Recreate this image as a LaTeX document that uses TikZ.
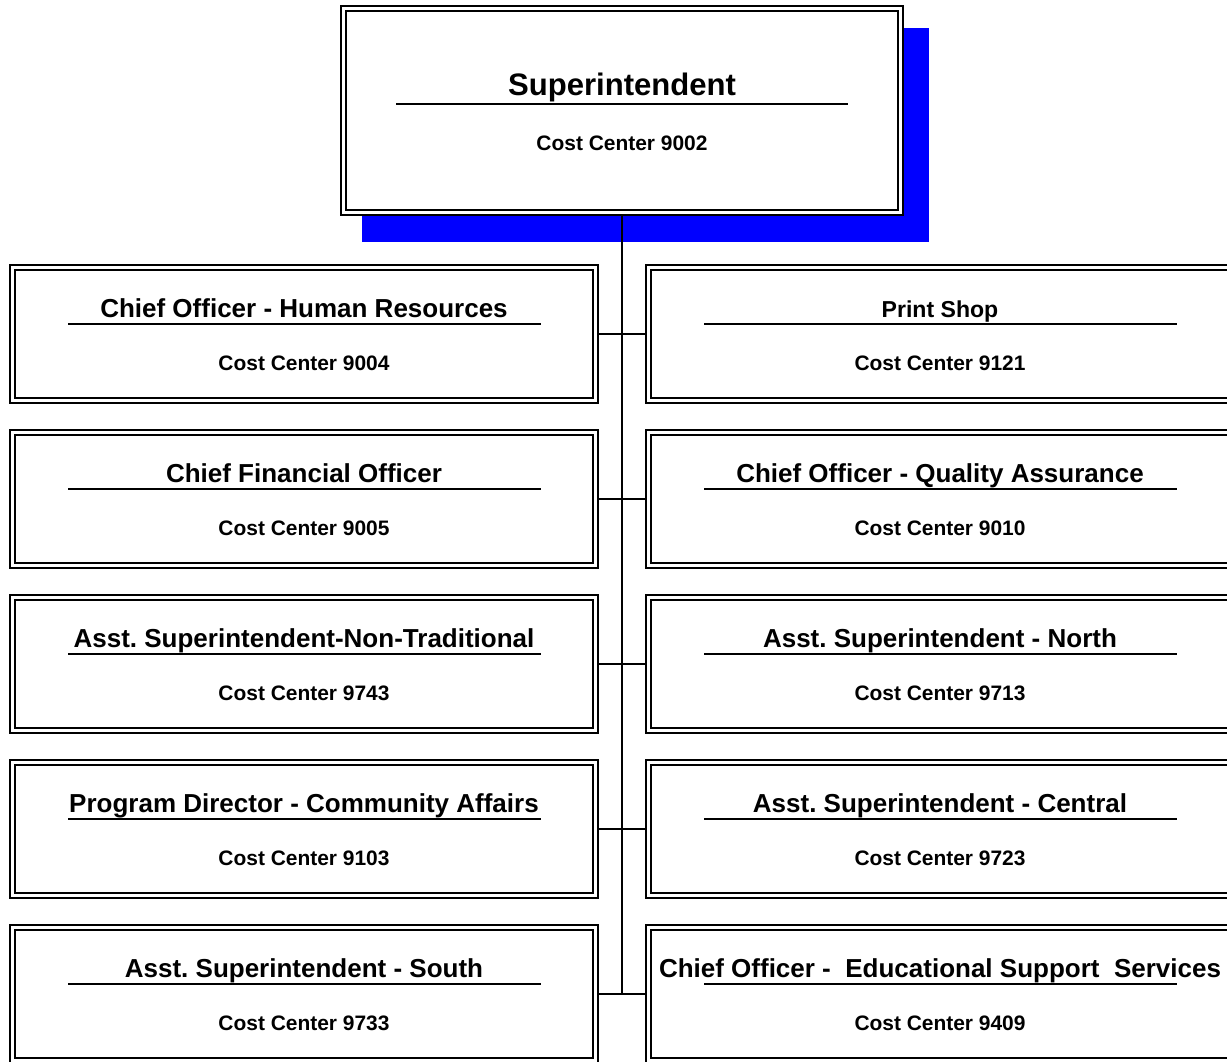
\documentclass[tikz,border=0pt]{standalone}
\usepackage{fontspec}
\setmainfont{Liberation Sans}
\frenchspacing
\definecolor{shadowblue}{RGB}{0,0,255}
\newcommand\OrgBox[6]{%
  \node[orgbox] (#1) at (#2,#3+70) {};
  \node[#4] (#1t) at (#2,#3+53) {#5};
  \draw[uline] (#2-236,#3+60) -- (#2+237,#3+60);
  \node[cctext] (#1c) at (#2,#3+106) {#6};
}
\begin{document}
\begin{tikzpicture}[x=0.75pt,y=-0.75pt,
  dbl/.style={draw=black, line width=1.6pt, double=white, double distance=2.1pt, fill=white, inner sep=0pt, outer sep=2.65pt},
  orgbox/.style={dbl, rectangle, minimum width=437.25pt, minimum height=99.75pt},
  topbox/.style={dbl, rectangle, minimum width=417.75pt, minimum height=153pt},
  titletext/.style={font=\fontsize{19.5}{22}\selectfont\bfseries, anchor=base, inner sep=0pt},
  smalltitle/.style={font=\fontsize{17.3}{20}\selectfont\bfseries, anchor=base, inner sep=0pt},
  bigtitle/.style={font=\fontsize{23.3}{26}\selectfont\bfseries, anchor=base, inner sep=0pt},
  cctext/.style={font=\fontsize{15.7}{18}\selectfont\bfseries, anchor=base, inner sep=0pt},
  uline/.style={line width=1.4pt},
  vconn/.style={line width=1.7pt},
  hconn/.style={line width=1.3pt}]
\useasboundingbox (0,0) rectangle (1227,1061);
\clip (0,0) rectangle (1227,1061);
% top box with shadow
\fill[shadowblue] (362,28) rectangle (929,242);
\node[topbox] (S) at (622,110.5) {};
\node[bigtitle] (St) at (622,95) {Superintendent};
\draw[uline] (396,104.3) -- (848,104.3);
\node[cctext] (Sc) at (622,150.5) {Cost Center 9002};
% left column
\OrgBox{L1}{304}{264}{titletext}{Chief Officer - Human Resources}{Cost Center 9004}
\OrgBox{L2}{304}{429}{titletext}{Chief Financial Officer}{Cost Center 9005}
\OrgBox{L3}{304}{594}{titletext}{Asst. Superintendent-Non-Traditional}{Cost Center 9743}
\OrgBox{L4}{304}{759}{titletext}{Program Director - Community Affairs}{Cost Center 9103}
\OrgBox{L5}{304}{924}{titletext}{Asst. Superintendent - South}{Cost Center 9733}
% right column
\OrgBox{R1}{940}{264}{smalltitle}{Print Shop}{Cost Center 9121}
\OrgBox{R2}{940}{429}{titletext}{Chief Officer - Quality Assurance}{Cost Center 9010}
\OrgBox{R3}{940}{594}{titletext}{Asst. Superintendent - North}{Cost Center 9713}
\OrgBox{R4}{940}{759}{titletext}{Asst. Superintendent - Central}{Cost Center 9723}
\OrgBox{R5}{940}{924}{titletext}{Chief Officer - ~Educational Support ~Services}{Cost Center 9409}
% connectors
\draw[vconn] (S.south) -- (S.south |- L5.east);
\foreach \r in {1,...,5}{
  \draw[hconn] (L\r.east) -- (R\r.west);
}
\end{tikzpicture}
\end{document}
